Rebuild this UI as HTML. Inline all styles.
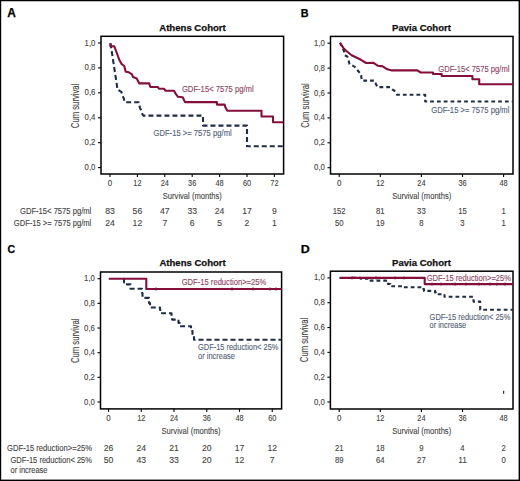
<!DOCTYPE html>
<html><head><meta charset="utf-8"><style>
html,body{margin:0;padding:0;background:#fff;}
body{width:520px;height:481px;overflow:hidden;position:relative;}
svg{position:absolute;left:0;top:0;}
text{font-family:"Liberation Sans", sans-serif;}
</style></head><body>
<svg width="520" height="481" viewBox="0 0 520 481">
<rect x="0" y="0" width="520" height="481" fill="#fff"/>
<rect x="101" y="36.3" width="182.60000000000002" height="137.7" fill="none" stroke="#000000" stroke-width="1.5"/>
<line x1="98" y1="167.6" x2="101" y2="167.6" stroke="#000000" stroke-width="1.1"/>
<text x="95.4" y="170.1" font-size="8.3" fill="#444444" text-anchor="end" font-weight="normal" textLength="10.8" lengthAdjust="spacingAndGlyphs" stroke="#444444" stroke-width="0.12">0,0</text>
<line x1="98" y1="142.68" x2="101" y2="142.68" stroke="#000000" stroke-width="1.1"/>
<text x="95.4" y="145.18" font-size="8.3" fill="#444444" text-anchor="end" font-weight="normal" textLength="10.8" lengthAdjust="spacingAndGlyphs" stroke="#444444" stroke-width="0.12">0,2</text>
<line x1="98" y1="117.76" x2="101" y2="117.76" stroke="#000000" stroke-width="1.1"/>
<text x="95.4" y="120.26" font-size="8.3" fill="#444444" text-anchor="end" font-weight="normal" textLength="10.8" lengthAdjust="spacingAndGlyphs" stroke="#444444" stroke-width="0.12">0,4</text>
<line x1="98" y1="92.84" x2="101" y2="92.84" stroke="#000000" stroke-width="1.1"/>
<text x="95.4" y="95.34" font-size="8.3" fill="#444444" text-anchor="end" font-weight="normal" textLength="10.8" lengthAdjust="spacingAndGlyphs" stroke="#444444" stroke-width="0.12">0,6</text>
<line x1="98" y1="67.92" x2="101" y2="67.92" stroke="#000000" stroke-width="1.1"/>
<text x="95.4" y="70.42" font-size="8.3" fill="#444444" text-anchor="end" font-weight="normal" textLength="10.8" lengthAdjust="spacingAndGlyphs" stroke="#444444" stroke-width="0.12">0,8</text>
<line x1="98" y1="43.0" x2="101" y2="43.0" stroke="#000000" stroke-width="1.1"/>
<text x="95.4" y="45.5" font-size="8.3" fill="#444444" text-anchor="end" font-weight="normal" textLength="10.8" lengthAdjust="spacingAndGlyphs" stroke="#444444" stroke-width="0.12">1,0</text>
<line x1="110.0" y1="174" x2="110.0" y2="177" stroke="#000000" stroke-width="1.1"/>
<text x="110.0" y="186.3" font-size="8.3" fill="#444444" text-anchor="middle" font-weight="normal" textLength="4.4" lengthAdjust="spacingAndGlyphs" stroke="#444444" stroke-width="0.12">0</text>
<line x1="137.4" y1="174" x2="137.4" y2="177" stroke="#000000" stroke-width="1.1"/>
<text x="137.4" y="186.3" font-size="8.3" fill="#444444" text-anchor="middle" font-weight="normal" textLength="8.2" lengthAdjust="spacingAndGlyphs" stroke="#444444" stroke-width="0.12">12</text>
<line x1="164.8" y1="174" x2="164.8" y2="177" stroke="#000000" stroke-width="1.1"/>
<text x="164.8" y="186.3" font-size="8.3" fill="#444444" text-anchor="middle" font-weight="normal" textLength="8.2" lengthAdjust="spacingAndGlyphs" stroke="#444444" stroke-width="0.12">24</text>
<line x1="192.2" y1="174" x2="192.2" y2="177" stroke="#000000" stroke-width="1.1"/>
<text x="192.2" y="186.3" font-size="8.3" fill="#444444" text-anchor="middle" font-weight="normal" textLength="8.2" lengthAdjust="spacingAndGlyphs" stroke="#444444" stroke-width="0.12">36</text>
<line x1="219.6" y1="174" x2="219.6" y2="177" stroke="#000000" stroke-width="1.1"/>
<text x="219.6" y="186.3" font-size="8.3" fill="#444444" text-anchor="middle" font-weight="normal" textLength="8.2" lengthAdjust="spacingAndGlyphs" stroke="#444444" stroke-width="0.12">48</text>
<line x1="247.0" y1="174" x2="247.0" y2="177" stroke="#000000" stroke-width="1.1"/>
<text x="247.0" y="186.3" font-size="8.3" fill="#444444" text-anchor="middle" font-weight="normal" textLength="8.2" lengthAdjust="spacingAndGlyphs" stroke="#444444" stroke-width="0.12">60</text>
<line x1="274.4" y1="174" x2="274.4" y2="177" stroke="#000000" stroke-width="1.1"/>
<text x="274.4" y="186.3" font-size="8.3" fill="#444444" text-anchor="middle" font-weight="normal" textLength="8.2" lengthAdjust="spacingAndGlyphs" stroke="#444444" stroke-width="0.12">72</text>
<text x="192.5" y="30.9" font-size="9.2" fill="#111" text-anchor="middle" font-weight="bold" textLength="66.5" lengthAdjust="spacingAndGlyphs" stroke="#111" stroke-width="0.25">Athens Cohort</text>
<text x="0" y="0" font-size="10" fill="#444444" stroke="#444444" stroke-width="0.12" text-anchor="middle" textLength="44.5" lengthAdjust="spacingAndGlyphs" transform="translate(79.2,105.9) rotate(-90)">Cum survival</text>
<text x="192.3" y="199.2" font-size="9.6" fill="#444444" text-anchor="middle" font-weight="normal" textLength="59" lengthAdjust="spacingAndGlyphs" stroke="#444444" stroke-width="0.12">Survival (months)</text>
<path d="M110.5 43.3 L116.8 84.5 L117.4 89.5 L120 91 L121.5 92 L122.2 96 L123.5 97.5 L124.7 102.3 H138.8 L140 108 L141.3 110.4 L142.3 114 L143.2 115.6 H203 V125.6 H247 V146.3 H283.5" fill="none" stroke="#1f2d48" stroke-width="2.1" stroke-linejoin="round" stroke-dasharray="5 3"/>
<path d="M110.4 43.2 V46.3 H114.3 L115.9 50.5 L119.5 60.3 L121.6 64 L124.2 66 L125.75 71.8 L128.9 72.3 L132 74.4 L133 77 L136.7 78.5 L139.3 83.4 H149.2 L150.4 87 H157.9 L159 88.7 H164.2 L165.4 90.8 H174 L175.8 93.9 L178 96.8 L182.7 97.3 L185 102.1 H216.9 V104.6 H224.6 L225.6 107.9 L227.5 110.8 H261.5 V116.5 H273 V122.3 H283.5" fill="none" stroke="#850f3b" stroke-width="2.1" stroke-linejoin="round"/>
<text x="181.9" y="91.9" font-size="8.3" fill="#8c4462" text-anchor="start" font-weight="normal" textLength="71.8" lengthAdjust="spacingAndGlyphs" stroke="#8c4462" stroke-width="0.12">GDF-15&lt; 7575 pg/ml</text>
<text x="153.5" y="135.9" font-size="8.3" fill="#535f78" text-anchor="start" font-weight="normal" textLength="78.2" lengthAdjust="spacingAndGlyphs" stroke="#535f78" stroke-width="0.12">GDF-15 &gt;= 7575 pg/ml</text>
<text x="91.3" y="213.5" font-size="8.3" fill="#444444" text-anchor="end" font-weight="normal" textLength="71.3" lengthAdjust="spacingAndGlyphs" stroke="#444444" stroke-width="0.12">GDF-15&lt; 7575 pg/ml</text>
<text x="91.3" y="225.5" font-size="8.3" fill="#444444" text-anchor="end" font-weight="normal" textLength="77.5" lengthAdjust="spacingAndGlyphs" stroke="#444444" stroke-width="0.12">GDF-15 &gt;= 7575 pg/ml</text>
<text x="110.0" y="213.5" font-size="8.3" fill="#444444" text-anchor="middle" font-weight="normal" textLength="9.6" lengthAdjust="spacingAndGlyphs" stroke="#444444" stroke-width="0.12">83</text>
<text x="137.4" y="213.5" font-size="8.3" fill="#444444" text-anchor="middle" font-weight="normal" textLength="9.6" lengthAdjust="spacingAndGlyphs" stroke="#444444" stroke-width="0.12">56</text>
<text x="164.8" y="213.5" font-size="8.3" fill="#444444" text-anchor="middle" font-weight="normal" textLength="9.6" lengthAdjust="spacingAndGlyphs" stroke="#444444" stroke-width="0.12">47</text>
<text x="192.2" y="213.5" font-size="8.3" fill="#444444" text-anchor="middle" font-weight="normal" textLength="9.6" lengthAdjust="spacingAndGlyphs" stroke="#444444" stroke-width="0.12">33</text>
<text x="219.6" y="213.5" font-size="8.3" fill="#444444" text-anchor="middle" font-weight="normal" textLength="9.6" lengthAdjust="spacingAndGlyphs" stroke="#444444" stroke-width="0.12">24</text>
<text x="247.0" y="213.5" font-size="8.3" fill="#444444" text-anchor="middle" font-weight="normal" textLength="9.6" lengthAdjust="spacingAndGlyphs" stroke="#444444" stroke-width="0.12">17</text>
<text x="274.4" y="213.5" font-size="8.3" fill="#444444" text-anchor="middle" font-weight="normal" textLength="4.8" lengthAdjust="spacingAndGlyphs" stroke="#444444" stroke-width="0.12">9</text>
<text x="110.0" y="225.5" font-size="8.3" fill="#444444" text-anchor="middle" font-weight="normal" textLength="9.6" lengthAdjust="spacingAndGlyphs" stroke="#444444" stroke-width="0.12">24</text>
<text x="137.4" y="225.5" font-size="8.3" fill="#444444" text-anchor="middle" font-weight="normal" textLength="9.6" lengthAdjust="spacingAndGlyphs" stroke="#444444" stroke-width="0.12">12</text>
<text x="164.8" y="225.5" font-size="8.3" fill="#444444" text-anchor="middle" font-weight="normal" textLength="4.8" lengthAdjust="spacingAndGlyphs" stroke="#444444" stroke-width="0.12">7</text>
<text x="192.2" y="225.5" font-size="8.3" fill="#444444" text-anchor="middle" font-weight="normal" textLength="4.8" lengthAdjust="spacingAndGlyphs" stroke="#444444" stroke-width="0.12">6</text>
<text x="219.6" y="225.5" font-size="8.3" fill="#444444" text-anchor="middle" font-weight="normal" textLength="4.8" lengthAdjust="spacingAndGlyphs" stroke="#444444" stroke-width="0.12">5</text>
<text x="247.0" y="225.5" font-size="8.3" fill="#444444" text-anchor="middle" font-weight="normal" textLength="4.8" lengthAdjust="spacingAndGlyphs" stroke="#444444" stroke-width="0.12">2</text>
<text x="274.4" y="225.5" font-size="8.3" fill="#444444" text-anchor="middle" font-weight="normal" textLength="4.8" lengthAdjust="spacingAndGlyphs" stroke="#444444" stroke-width="0.12">1</text>
<rect x="330.5" y="36.4" width="182.5" height="137.6" fill="none" stroke="#000000" stroke-width="1.5"/>
<line x1="327.5" y1="167.7" x2="330.5" y2="167.7" stroke="#000000" stroke-width="1.1"/>
<text x="324.9" y="170.2" font-size="8.3" fill="#444444" text-anchor="end" font-weight="normal" textLength="10.8" lengthAdjust="spacingAndGlyphs" stroke="#444444" stroke-width="0.12">0,0</text>
<line x1="327.5" y1="142.8" x2="330.5" y2="142.8" stroke="#000000" stroke-width="1.1"/>
<text x="324.9" y="145.3" font-size="8.3" fill="#444444" text-anchor="end" font-weight="normal" textLength="10.8" lengthAdjust="spacingAndGlyphs" stroke="#444444" stroke-width="0.12">0,2</text>
<line x1="327.5" y1="117.9" x2="330.5" y2="117.9" stroke="#000000" stroke-width="1.1"/>
<text x="324.9" y="120.4" font-size="8.3" fill="#444444" text-anchor="end" font-weight="normal" textLength="10.8" lengthAdjust="spacingAndGlyphs" stroke="#444444" stroke-width="0.12">0,4</text>
<line x1="327.5" y1="93.0" x2="330.5" y2="93.0" stroke="#000000" stroke-width="1.1"/>
<text x="324.9" y="95.5" font-size="8.3" fill="#444444" text-anchor="end" font-weight="normal" textLength="10.8" lengthAdjust="spacingAndGlyphs" stroke="#444444" stroke-width="0.12">0,6</text>
<line x1="327.5" y1="68.1" x2="330.5" y2="68.1" stroke="#000000" stroke-width="1.1"/>
<text x="324.9" y="70.6" font-size="8.3" fill="#444444" text-anchor="end" font-weight="normal" textLength="10.8" lengthAdjust="spacingAndGlyphs" stroke="#444444" stroke-width="0.12">0,8</text>
<line x1="327.5" y1="43.2" x2="330.5" y2="43.2" stroke="#000000" stroke-width="1.1"/>
<text x="324.9" y="45.7" font-size="8.3" fill="#444444" text-anchor="end" font-weight="normal" textLength="10.8" lengthAdjust="spacingAndGlyphs" stroke="#444444" stroke-width="0.12">1,0</text>
<line x1="339.2" y1="174" x2="339.2" y2="177" stroke="#000000" stroke-width="1.1"/>
<text x="339.2" y="186.3" font-size="8.3" fill="#444444" text-anchor="middle" font-weight="normal" textLength="4.4" lengthAdjust="spacingAndGlyphs" stroke="#444444" stroke-width="0.12">0</text>
<line x1="380.3" y1="174" x2="380.3" y2="177" stroke="#000000" stroke-width="1.1"/>
<text x="380.3" y="186.3" font-size="8.3" fill="#444444" text-anchor="middle" font-weight="normal" textLength="8.2" lengthAdjust="spacingAndGlyphs" stroke="#444444" stroke-width="0.12">12</text>
<line x1="421.4" y1="174" x2="421.4" y2="177" stroke="#000000" stroke-width="1.1"/>
<text x="421.4" y="186.3" font-size="8.3" fill="#444444" text-anchor="middle" font-weight="normal" textLength="8.2" lengthAdjust="spacingAndGlyphs" stroke="#444444" stroke-width="0.12">24</text>
<line x1="462.5" y1="174" x2="462.5" y2="177" stroke="#000000" stroke-width="1.1"/>
<text x="462.5" y="186.3" font-size="8.3" fill="#444444" text-anchor="middle" font-weight="normal" textLength="8.2" lengthAdjust="spacingAndGlyphs" stroke="#444444" stroke-width="0.12">36</text>
<line x1="503.6" y1="174" x2="503.6" y2="177" stroke="#000000" stroke-width="1.1"/>
<text x="503.6" y="186.3" font-size="8.3" fill="#444444" text-anchor="middle" font-weight="normal" textLength="8.2" lengthAdjust="spacingAndGlyphs" stroke="#444444" stroke-width="0.12">48</text>
<text x="421.5" y="30.9" font-size="9.2" fill="#111" text-anchor="middle" font-weight="bold" textLength="58.8" lengthAdjust="spacingAndGlyphs" stroke="#111" stroke-width="0.25">Pavia Cohort</text>
<text x="0" y="0" font-size="10" fill="#444444" stroke="#444444" stroke-width="0.12" text-anchor="middle" textLength="44.5" lengthAdjust="spacingAndGlyphs" transform="translate(308.5,105.6) rotate(-90)">Cum survival</text>
<text x="421.75" y="199.2" font-size="9.6" fill="#444444" text-anchor="middle" font-weight="normal" textLength="59" lengthAdjust="spacingAndGlyphs" stroke="#444444" stroke-width="0.12">Survival (months)</text>
<path d="M340 42.7 L343.8 50.5 L344.8 55.2 L347.4 56.7 L348.5 60.3 L349.5 64 L352.6 65.5 L355.75 67.6 L358.35 71.3 L361 73.9 L361.5 78.5 L362 80.6 H374.6 L375.8 83.7 L377.5 87.1 H390.2 L392.5 89.5 L396 91.8 L397.1 94.8 H425.2 V101.5 H513" fill="none" stroke="#1f2d48" stroke-width="2.1" stroke-linejoin="round" stroke-dasharray="3.8 3"/>
<path d="M340 42.7 L343.3 47.9 L346.4 51 L351.6 55.2 L356.8 57.8 L361 59.8 L366.1 63 L373.5 62.9 L378 65.8 L382.7 66.4 L387.3 69.3 L391.9 70.4 H417.3 L420.75 72.5 H433 V74 H441.7 V76 H472.4 V79.2 H479.2 V84.2 H513" fill="none" stroke="#850f3b" stroke-width="2.1" stroke-linejoin="round"/>
<text x="438.3" y="72.1" font-size="8.3" fill="#8c4462" text-anchor="start" font-weight="normal" textLength="71.1" lengthAdjust="spacingAndGlyphs" stroke="#8c4462" stroke-width="0.12">GDF-15&lt; 7575 pg/ml</text>
<text x="431.2" y="112.5" font-size="8.3" fill="#535f78" text-anchor="start" font-weight="normal" textLength="78.2" lengthAdjust="spacingAndGlyphs" stroke="#535f78" stroke-width="0.12">GDF-15 &gt;= 7575 pg/ml</text>
<text x="339.2" y="213.5" font-size="8.3" fill="#444444" text-anchor="middle" font-weight="normal" textLength="12.899999999999999" lengthAdjust="spacingAndGlyphs" stroke="#444444" stroke-width="0.12">152</text>
<text x="380.3" y="213.5" font-size="8.3" fill="#444444" text-anchor="middle" font-weight="normal" textLength="8.6" lengthAdjust="spacingAndGlyphs" stroke="#444444" stroke-width="0.12">81</text>
<text x="421.4" y="213.5" font-size="8.3" fill="#444444" text-anchor="middle" font-weight="normal" textLength="8.6" lengthAdjust="spacingAndGlyphs" stroke="#444444" stroke-width="0.12">33</text>
<text x="462.5" y="213.5" font-size="8.3" fill="#444444" text-anchor="middle" font-weight="normal" textLength="8.6" lengthAdjust="spacingAndGlyphs" stroke="#444444" stroke-width="0.12">15</text>
<text x="503.6" y="213.5" font-size="8.3" fill="#444444" text-anchor="middle" font-weight="normal" textLength="4.3" lengthAdjust="spacingAndGlyphs" stroke="#444444" stroke-width="0.12">1</text>
<text x="339.2" y="226" font-size="8.3" fill="#444444" text-anchor="middle" font-weight="normal" textLength="8.6" lengthAdjust="spacingAndGlyphs" stroke="#444444" stroke-width="0.12">50</text>
<text x="380.3" y="226" font-size="8.3" fill="#444444" text-anchor="middle" font-weight="normal" textLength="8.6" lengthAdjust="spacingAndGlyphs" stroke="#444444" stroke-width="0.12">19</text>
<text x="421.4" y="226" font-size="8.3" fill="#444444" text-anchor="middle" font-weight="normal" textLength="4.3" lengthAdjust="spacingAndGlyphs" stroke="#444444" stroke-width="0.12">8</text>
<text x="462.5" y="226" font-size="8.3" fill="#444444" text-anchor="middle" font-weight="normal" textLength="4.3" lengthAdjust="spacingAndGlyphs" stroke="#444444" stroke-width="0.12">3</text>
<text x="503.6" y="226" font-size="8.3" fill="#444444" text-anchor="middle" font-weight="normal" textLength="4.3" lengthAdjust="spacingAndGlyphs" stroke="#444444" stroke-width="0.12">1</text>
<rect x="100.5" y="272" width="181.10000000000002" height="136.89999999999998" fill="none" stroke="#000000" stroke-width="1.5"/>
<line x1="97.5" y1="402.0" x2="100.5" y2="402.0" stroke="#000000" stroke-width="1.1"/>
<text x="94.9" y="404.5" font-size="8.3" fill="#444444" text-anchor="end" font-weight="normal" textLength="10.8" lengthAdjust="spacingAndGlyphs" stroke="#444444" stroke-width="0.12">0,0</text>
<line x1="97.5" y1="377.34" x2="100.5" y2="377.34" stroke="#000000" stroke-width="1.1"/>
<text x="94.9" y="379.84" font-size="8.3" fill="#444444" text-anchor="end" font-weight="normal" textLength="10.8" lengthAdjust="spacingAndGlyphs" stroke="#444444" stroke-width="0.12">0,2</text>
<line x1="97.5" y1="352.68" x2="100.5" y2="352.68" stroke="#000000" stroke-width="1.1"/>
<text x="94.9" y="355.18" font-size="8.3" fill="#444444" text-anchor="end" font-weight="normal" textLength="10.8" lengthAdjust="spacingAndGlyphs" stroke="#444444" stroke-width="0.12">0,4</text>
<line x1="97.5" y1="328.02" x2="100.5" y2="328.02" stroke="#000000" stroke-width="1.1"/>
<text x="94.9" y="330.52" font-size="8.3" fill="#444444" text-anchor="end" font-weight="normal" textLength="10.8" lengthAdjust="spacingAndGlyphs" stroke="#444444" stroke-width="0.12">0,6</text>
<line x1="97.5" y1="303.36" x2="100.5" y2="303.36" stroke="#000000" stroke-width="1.1"/>
<text x="94.9" y="305.86" font-size="8.3" fill="#444444" text-anchor="end" font-weight="normal" textLength="10.8" lengthAdjust="spacingAndGlyphs" stroke="#444444" stroke-width="0.12">0,8</text>
<line x1="97.5" y1="278.7" x2="100.5" y2="278.7" stroke="#000000" stroke-width="1.1"/>
<text x="94.9" y="281.2" font-size="8.3" fill="#444444" text-anchor="end" font-weight="normal" textLength="10.8" lengthAdjust="spacingAndGlyphs" stroke="#444444" stroke-width="0.12">1,0</text>
<line x1="108.5" y1="408.9" x2="108.5" y2="411.9" stroke="#000000" stroke-width="1.1"/>
<text x="108.5" y="421.2" font-size="8.3" fill="#444444" text-anchor="middle" font-weight="normal" textLength="4.4" lengthAdjust="spacingAndGlyphs" stroke="#444444" stroke-width="0.12">0</text>
<line x1="141.25" y1="408.9" x2="141.25" y2="411.9" stroke="#000000" stroke-width="1.1"/>
<text x="141.25" y="421.2" font-size="8.3" fill="#444444" text-anchor="middle" font-weight="normal" textLength="8.2" lengthAdjust="spacingAndGlyphs" stroke="#444444" stroke-width="0.12">12</text>
<line x1="174.0" y1="408.9" x2="174.0" y2="411.9" stroke="#000000" stroke-width="1.1"/>
<text x="174.0" y="421.2" font-size="8.3" fill="#444444" text-anchor="middle" font-weight="normal" textLength="8.2" lengthAdjust="spacingAndGlyphs" stroke="#444444" stroke-width="0.12">24</text>
<line x1="206.75" y1="408.9" x2="206.75" y2="411.9" stroke="#000000" stroke-width="1.1"/>
<text x="206.75" y="421.2" font-size="8.3" fill="#444444" text-anchor="middle" font-weight="normal" textLength="8.2" lengthAdjust="spacingAndGlyphs" stroke="#444444" stroke-width="0.12">36</text>
<line x1="239.5" y1="408.9" x2="239.5" y2="411.9" stroke="#000000" stroke-width="1.1"/>
<text x="239.5" y="421.2" font-size="8.3" fill="#444444" text-anchor="middle" font-weight="normal" textLength="8.2" lengthAdjust="spacingAndGlyphs" stroke="#444444" stroke-width="0.12">48</text>
<line x1="272.25" y1="408.9" x2="272.25" y2="411.9" stroke="#000000" stroke-width="1.1"/>
<text x="272.25" y="421.2" font-size="8.3" fill="#444444" text-anchor="middle" font-weight="normal" textLength="8.2" lengthAdjust="spacingAndGlyphs" stroke="#444444" stroke-width="0.12">60</text>
<text x="192.6" y="266.4" font-size="9.2" fill="#111" text-anchor="middle" font-weight="bold" textLength="66.3" lengthAdjust="spacingAndGlyphs" stroke="#111" stroke-width="0.25">Athens Cohort</text>
<text x="0" y="0" font-size="10" fill="#444444" stroke="#444444" stroke-width="0.12" text-anchor="middle" textLength="44.5" lengthAdjust="spacingAndGlyphs" transform="translate(78.7,340.8) rotate(-90)">Cum survival</text>
<text x="191.05" y="433.8" font-size="9.6" fill="#444444" text-anchor="middle" font-weight="normal" textLength="59" lengthAdjust="spacingAndGlyphs" stroke="#444444" stroke-width="0.12">Survival (months)</text>
<path d="M123.5 278.8 H124 V282.5 H127 V284.4 H130.5 V288.7 H142 V293 H142.5 V297.9 H149 V303 H150 V307.5 H160 V310 H162 V313.3 H171.5 V316 H172.1 V319.6 H178.5 V323 H179.8 V326.2 H191 V331 H192.5 V335 H194 V339.8 H281.6" fill="none" stroke="#1f2d48" stroke-width="2.1" stroke-linejoin="round" stroke-dasharray="5 3"/>
<path d="M108.7 278.8 H146.3 V289 H281.6" fill="none" stroke="#850f3b" stroke-width="2.1" stroke-linejoin="round"/>
<text x="181.7" y="284.8" font-size="8.3" fill="#8c4462" text-anchor="start" font-weight="normal" textLength="84.6" lengthAdjust="spacingAndGlyphs" stroke="#8c4462" stroke-width="0.12">GDF-15 reduction&gt;=25%</text>
<text x="198" y="350.4" font-size="8.3" fill="#535f78" text-anchor="start" font-weight="normal" textLength="80.4" lengthAdjust="spacingAndGlyphs" stroke="#535f78" stroke-width="0.12">GDF-15 reduction&lt; 25%</text>
<text x="198" y="358.6" font-size="8.3" fill="#535f78" text-anchor="start" font-weight="normal" textLength="37" lengthAdjust="spacingAndGlyphs" stroke="#535f78" stroke-width="0.12">or increase</text>
<text x="92" y="450.6" font-size="8.3" fill="#444444" text-anchor="end" font-weight="normal" textLength="85" lengthAdjust="spacingAndGlyphs" stroke="#444444" stroke-width="0.12">GDF-15 reduction&gt;=25%</text>
<text x="10.5" y="462.6" font-size="8.3" fill="#444444" text-anchor="start" font-weight="normal" textLength="81.5" lengthAdjust="spacingAndGlyphs" stroke="#444444" stroke-width="0.12">GDF-15 reduction&lt; 25%</text>
<text x="10.5" y="472.7" font-size="8.3" fill="#444444" text-anchor="start" font-weight="normal" textLength="37" lengthAdjust="spacingAndGlyphs" stroke="#444444" stroke-width="0.12">or increase</text>
<text x="108.5" y="450.7" font-size="8.3" fill="#444444" text-anchor="middle" font-weight="normal" textLength="9.6" lengthAdjust="spacingAndGlyphs" stroke="#444444" stroke-width="0.12">26</text>
<text x="141.25" y="450.7" font-size="8.3" fill="#444444" text-anchor="middle" font-weight="normal" textLength="9.6" lengthAdjust="spacingAndGlyphs" stroke="#444444" stroke-width="0.12">24</text>
<text x="174.0" y="450.7" font-size="8.3" fill="#444444" text-anchor="middle" font-weight="normal" textLength="9.6" lengthAdjust="spacingAndGlyphs" stroke="#444444" stroke-width="0.12">21</text>
<text x="206.75" y="450.7" font-size="8.3" fill="#444444" text-anchor="middle" font-weight="normal" textLength="9.6" lengthAdjust="spacingAndGlyphs" stroke="#444444" stroke-width="0.12">20</text>
<text x="239.5" y="450.7" font-size="8.3" fill="#444444" text-anchor="middle" font-weight="normal" textLength="9.6" lengthAdjust="spacingAndGlyphs" stroke="#444444" stroke-width="0.12">17</text>
<text x="272.25" y="450.7" font-size="8.3" fill="#444444" text-anchor="middle" font-weight="normal" textLength="9.6" lengthAdjust="spacingAndGlyphs" stroke="#444444" stroke-width="0.12">12</text>
<text x="108.5" y="462.7" font-size="8.3" fill="#444444" text-anchor="middle" font-weight="normal" textLength="9.6" lengthAdjust="spacingAndGlyphs" stroke="#444444" stroke-width="0.12">50</text>
<text x="141.25" y="462.7" font-size="8.3" fill="#444444" text-anchor="middle" font-weight="normal" textLength="9.6" lengthAdjust="spacingAndGlyphs" stroke="#444444" stroke-width="0.12">43</text>
<text x="174.0" y="462.7" font-size="8.3" fill="#444444" text-anchor="middle" font-weight="normal" textLength="9.6" lengthAdjust="spacingAndGlyphs" stroke="#444444" stroke-width="0.12">33</text>
<text x="206.75" y="462.7" font-size="8.3" fill="#444444" text-anchor="middle" font-weight="normal" textLength="9.6" lengthAdjust="spacingAndGlyphs" stroke="#444444" stroke-width="0.12">20</text>
<text x="239.5" y="462.7" font-size="8.3" fill="#444444" text-anchor="middle" font-weight="normal" textLength="9.6" lengthAdjust="spacingAndGlyphs" stroke="#444444" stroke-width="0.12">12</text>
<text x="272.25" y="462.7" font-size="8.3" fill="#444444" text-anchor="middle" font-weight="normal" textLength="4.8" lengthAdjust="spacingAndGlyphs" stroke="#444444" stroke-width="0.12">7</text>
<rect x="330.4" y="271.2" width="182.60000000000002" height="137.8" fill="none" stroke="#000000" stroke-width="1.5"/>
<line x1="327.4" y1="402.0" x2="330.4" y2="402.0" stroke="#000000" stroke-width="1.1"/>
<text x="324.79999999999995" y="404.5" font-size="8.3" fill="#444444" text-anchor="end" font-weight="normal" textLength="10.8" lengthAdjust="spacingAndGlyphs" stroke="#444444" stroke-width="0.12">0,0</text>
<line x1="327.4" y1="377.18" x2="330.4" y2="377.18" stroke="#000000" stroke-width="1.1"/>
<text x="324.79999999999995" y="379.68" font-size="8.3" fill="#444444" text-anchor="end" font-weight="normal" textLength="10.8" lengthAdjust="spacingAndGlyphs" stroke="#444444" stroke-width="0.12">0,2</text>
<line x1="327.4" y1="352.36" x2="330.4" y2="352.36" stroke="#000000" stroke-width="1.1"/>
<text x="324.79999999999995" y="354.86" font-size="8.3" fill="#444444" text-anchor="end" font-weight="normal" textLength="10.8" lengthAdjust="spacingAndGlyphs" stroke="#444444" stroke-width="0.12">0,4</text>
<line x1="327.4" y1="327.54" x2="330.4" y2="327.54" stroke="#000000" stroke-width="1.1"/>
<text x="324.79999999999995" y="330.04" font-size="8.3" fill="#444444" text-anchor="end" font-weight="normal" textLength="10.8" lengthAdjust="spacingAndGlyphs" stroke="#444444" stroke-width="0.12">0,6</text>
<line x1="327.4" y1="302.72" x2="330.4" y2="302.72" stroke="#000000" stroke-width="1.1"/>
<text x="324.79999999999995" y="305.22" font-size="8.3" fill="#444444" text-anchor="end" font-weight="normal" textLength="10.8" lengthAdjust="spacingAndGlyphs" stroke="#444444" stroke-width="0.12">0,8</text>
<line x1="327.4" y1="277.9" x2="330.4" y2="277.9" stroke="#000000" stroke-width="1.1"/>
<text x="324.79999999999995" y="280.4" font-size="8.3" fill="#444444" text-anchor="end" font-weight="normal" textLength="10.8" lengthAdjust="spacingAndGlyphs" stroke="#444444" stroke-width="0.12">1,0</text>
<line x1="339.2" y1="409" x2="339.2" y2="412" stroke="#000000" stroke-width="1.1"/>
<text x="339.2" y="421.2" font-size="8.3" fill="#444444" text-anchor="middle" font-weight="normal" textLength="4.4" lengthAdjust="spacingAndGlyphs" stroke="#444444" stroke-width="0.12">0</text>
<line x1="380.3" y1="409" x2="380.3" y2="412" stroke="#000000" stroke-width="1.1"/>
<text x="380.3" y="421.2" font-size="8.3" fill="#444444" text-anchor="middle" font-weight="normal" textLength="8.2" lengthAdjust="spacingAndGlyphs" stroke="#444444" stroke-width="0.12">12</text>
<line x1="421.4" y1="409" x2="421.4" y2="412" stroke="#000000" stroke-width="1.1"/>
<text x="421.4" y="421.2" font-size="8.3" fill="#444444" text-anchor="middle" font-weight="normal" textLength="8.2" lengthAdjust="spacingAndGlyphs" stroke="#444444" stroke-width="0.12">24</text>
<line x1="462.5" y1="409" x2="462.5" y2="412" stroke="#000000" stroke-width="1.1"/>
<text x="462.5" y="421.2" font-size="8.3" fill="#444444" text-anchor="middle" font-weight="normal" textLength="8.2" lengthAdjust="spacingAndGlyphs" stroke="#444444" stroke-width="0.12">36</text>
<text x="503.6" y="421.2" font-size="8.3" fill="#444444" text-anchor="middle" font-weight="normal" textLength="8.2" lengthAdjust="spacingAndGlyphs" stroke="#444444" stroke-width="0.12">48</text>
<text x="421.5" y="266.4" font-size="9.2" fill="#111" text-anchor="middle" font-weight="bold" textLength="58.8" lengthAdjust="spacingAndGlyphs" stroke="#111" stroke-width="0.25">Pavia Cohort</text>
<text x="0" y="0" font-size="10" fill="#444444" stroke="#444444" stroke-width="0.12" text-anchor="middle" textLength="44.5" lengthAdjust="spacingAndGlyphs" transform="translate(308.4,339.9) rotate(-90)">Cum survival</text>
<text x="421.7" y="433.8" font-size="9.6" fill="#444444" text-anchor="middle" font-weight="normal" textLength="59" lengthAdjust="spacingAndGlyphs" stroke="#444444" stroke-width="0.12">Survival (months)</text>
<path d="M352 277.9 H360.4 V278.6 H368 V280.6 H386 V282 H388 V284 H390.4 V286.2 H402 V287.2 H422 V289 H424 V290.9 H435 V292.5 H436.1 V294.2 H444.5 V296.8 H473.5 V301.6 H480.2 V309.8 H513" fill="none" stroke="#1f2d48" stroke-width="2.1" stroke-linejoin="round" stroke-dasharray="3.8 3"/>
<path d="M339.4 277.9 H424.7 V284.1 H513" fill="none" stroke="#850f3b" stroke-width="2.1" stroke-linejoin="round"/>
<text x="426.7" y="280.8" font-size="8.3" fill="#8c4462" text-anchor="start" font-weight="normal" textLength="84.3" lengthAdjust="spacingAndGlyphs" stroke="#8c4462" stroke-width="0.12">GDF-15 reduction&gt;=25%</text>
<text x="429.6" y="320" font-size="8.3" fill="#535f78" text-anchor="start" font-weight="normal" textLength="80.8" lengthAdjust="spacingAndGlyphs" stroke="#535f78" stroke-width="0.12">GDF-15 reduction&lt; 25%</text>
<text x="429.6" y="328.2" font-size="8.3" fill="#535f78" text-anchor="start" font-weight="normal" textLength="36.6" lengthAdjust="spacingAndGlyphs" stroke="#535f78" stroke-width="0.12">or increase</text>
<text x="339.2" y="450.6" font-size="8.3" fill="#444444" text-anchor="middle" font-weight="normal" textLength="8.6" lengthAdjust="spacingAndGlyphs" stroke="#444444" stroke-width="0.12">21</text>
<text x="380.3" y="450.6" font-size="8.3" fill="#444444" text-anchor="middle" font-weight="normal" textLength="8.6" lengthAdjust="spacingAndGlyphs" stroke="#444444" stroke-width="0.12">18</text>
<text x="421.4" y="450.6" font-size="8.3" fill="#444444" text-anchor="middle" font-weight="normal" textLength="4.3" lengthAdjust="spacingAndGlyphs" stroke="#444444" stroke-width="0.12">9</text>
<text x="462.5" y="450.6" font-size="8.3" fill="#444444" text-anchor="middle" font-weight="normal" textLength="4.3" lengthAdjust="spacingAndGlyphs" stroke="#444444" stroke-width="0.12">4</text>
<text x="503.6" y="450.6" font-size="8.3" fill="#444444" text-anchor="middle" font-weight="normal" textLength="4.3" lengthAdjust="spacingAndGlyphs" stroke="#444444" stroke-width="0.12">2</text>
<text x="339.2" y="462.7" font-size="8.3" fill="#444444" text-anchor="middle" font-weight="normal" textLength="8.6" lengthAdjust="spacingAndGlyphs" stroke="#444444" stroke-width="0.12">89</text>
<text x="380.3" y="462.7" font-size="8.3" fill="#444444" text-anchor="middle" font-weight="normal" textLength="8.6" lengthAdjust="spacingAndGlyphs" stroke="#444444" stroke-width="0.12">64</text>
<text x="421.4" y="462.7" font-size="8.3" fill="#444444" text-anchor="middle" font-weight="normal" textLength="8.6" lengthAdjust="spacingAndGlyphs" stroke="#444444" stroke-width="0.12">27</text>
<text x="462.5" y="462.7" font-size="8.3" fill="#444444" text-anchor="middle" font-weight="normal" textLength="8.6" lengthAdjust="spacingAndGlyphs" stroke="#444444" stroke-width="0.12">11</text>
<text x="503.6" y="462.7" font-size="8.3" fill="#444444" text-anchor="middle" font-weight="normal" textLength="4.3" lengthAdjust="spacingAndGlyphs" stroke="#444444" stroke-width="0.12">0</text>
<text x="7.2" y="17" font-size="12" fill="#000" text-anchor="start" font-weight="bold" textLength="8.6" lengthAdjust="spacingAndGlyphs" stroke="#000" stroke-width="0.25">A</text>
<text x="300.8" y="16.8" font-size="11.5" fill="#000" text-anchor="start" font-weight="bold" textLength="7.8" lengthAdjust="spacingAndGlyphs" stroke="#000" stroke-width="0.25">B</text>
<text x="7.5" y="253" font-size="11.5" fill="#000" text-anchor="start" font-weight="bold" textLength="7.6" lengthAdjust="spacingAndGlyphs" stroke="#000" stroke-width="0.25">C</text>
<text x="300.8" y="252.6" font-size="11.5" fill="#000" text-anchor="start" font-weight="bold" textLength="9" lengthAdjust="spacingAndGlyphs" stroke="#000" stroke-width="0.25">D</text>
<line x1="156" y1="287.3" x2="156" y2="290.7" stroke="#850f3b" stroke-width="0.9"/>
<line x1="232" y1="287.3" x2="232" y2="290.7" stroke="#850f3b" stroke-width="0.9"/>
<line x1="253" y1="287.3" x2="253" y2="290.7" stroke="#850f3b" stroke-width="0.9"/>
<line x1="270" y1="287.3" x2="270" y2="290.7" stroke="#850f3b" stroke-width="0.9"/>
<line x1="276" y1="287.3" x2="276" y2="290.7" stroke="#850f3b" stroke-width="0.9"/>
<line x1="352" y1="276.29999999999995" x2="352" y2="279.5" stroke="#850f3b" stroke-width="0.9"/>
<line x1="376" y1="276.29999999999995" x2="376" y2="279.5" stroke="#850f3b" stroke-width="0.9"/>
<line x1="395" y1="276.29999999999995" x2="395" y2="279.5" stroke="#850f3b" stroke-width="0.9"/>
<line x1="404" y1="276.29999999999995" x2="404" y2="279.5" stroke="#850f3b" stroke-width="0.9"/>
<line x1="432" y1="282.5" x2="432" y2="285.70000000000005" stroke="#850f3b" stroke-width="0.9"/>
<line x1="441" y1="282.5" x2="441" y2="285.70000000000005" stroke="#850f3b" stroke-width="0.9"/>
<line x1="455" y1="282.5" x2="455" y2="285.70000000000005" stroke="#850f3b" stroke-width="0.9"/>
<line x1="466" y1="282.5" x2="466" y2="285.70000000000005" stroke="#850f3b" stroke-width="0.9"/>
<line x1="479" y1="282.5" x2="479" y2="285.70000000000005" stroke="#850f3b" stroke-width="0.9"/>
<line x1="490" y1="282.5" x2="490" y2="285.70000000000005" stroke="#850f3b" stroke-width="0.9"/>
<line x1="497" y1="282.5" x2="497" y2="285.70000000000005" stroke="#850f3b" stroke-width="0.9"/>
<line x1="505" y1="282.5" x2="505" y2="285.70000000000005" stroke="#850f3b" stroke-width="0.9"/>
<line x1="503.7" y1="390.8" x2="503.7" y2="393.8" stroke="#000000" stroke-width="1"/>
<rect x="0" y="0" width="520" height="1.25" fill="#000"/>
<rect x="0" y="0" width="1.2" height="481" fill="#000"/>
<rect x="518.6" y="0" width="1.4" height="481" fill="#000"/>
<rect x="0" y="479.6" width="520" height="1.4" fill="#000"/>
</svg>
</body></html>
